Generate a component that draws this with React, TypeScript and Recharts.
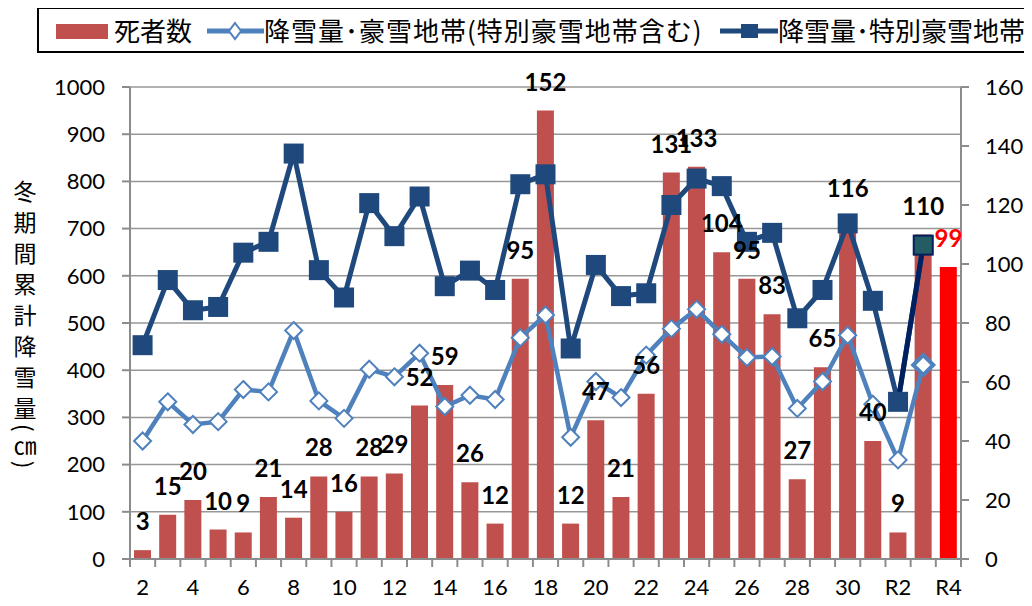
import React from 'react';
import { ComposedChart, Bar, Line, XAxis, YAxis, CartesianGrid, Cell, LabelList } from 'recharts';

// ---- data ----
const categories = [
  '2', '3', '4', '5', '6', '7', '8', '9', '10', '11', '12', '13', '14', '15', '16',
  '17', '18', '19', '20', '21', '22', '23', '24', '25', '26', '27', '28', '29', '30',
  'R1', 'R2', 'R3', 'R4',
];
const deaths = [
  3, 15, 20, 10, 9, 21, 14, 28, 16, 28, 29, 52, 59, 26, 12,
  95, 152, 12, 47, 21, 56, 131, 133, 104, 95, 83, 27, 65, 116,
  40, 9, 110, 99,
];
const snowAll: (number | null)[] = [
  250, 333, 285, 291, 359, 354, 484, 335, 298, 402, 386, 436, 323, 347, 338,
  469, 517, 258, 376, 342, 432, 488, 529, 476, 427, 429, 319, 376, 474,
  328, 210, 411, null,
];
const snowSpecial: (number | null)[] = [
  453, 591, 527, 534, 649, 672, 859, 612, 554, 754, 684, 768, 578, 611, 570,
  794, 815, 446, 623, 557, 563, 750, 806, 790, 672, 691, 510, 570, 711,
  547, 333, 665, null,
];
const xTickLabels = ['2', '4', '6', '8', '10', '12', '14', '16', '18', '20', '22', '24', '26', '28', '30', 'R2', 'R4'];
const leftTicks = [0, 100, 200, 300, 400, 500, 600, 700, 800, 900, 1000];
const rightTicks = [0, 20, 40, 60, 80, 100, 120, 140, 160];
const legendLabels = ['死者数', '降雪量･豪雪地帯(特別豪雪地帯含む)', '降雪量･特別豪雪地帯'];
const axisTitle = ['冬', '期', '間', '累', '計', '降', '雪', '量', '(', '㎝', ')'];

// latest-year highlight index
const lastSnowIdx = snowSpecial.reduce((acc: number, v, i) => (v != null ? i : acc), -1);

const data = categories.map((cat, i) => ({
  cat,
  deaths: deaths[i],
  snowAll: snowAll[i],
  snowSpecial: snowSpecial[i],
  specialLast: i >= lastSnowIdx - 1 && i <= lastSnowIdx ? snowSpecial[i] : null,
}));

// ---- style ----
const W = 1032;
const H = 606;
const PLOT_LEFT = 130;
const PLOT_RIGHT = 961;
const PLOT_TOP = 87;
const PLOT_BOTTOM = 559;
const BAND = (PLOT_RIGHT - PLOT_LEFT) / categories.length;
const AXIS = '#8c8c8c';
const BAR = '#C0504D';
const BAR_HI = '#FF0000';
const LIGHT = '#4F81BD';
const DARK = '#1F497D';
const NAVY = '#002060';
const NUM_FONT = 'Lato, "Open Sans", sans-serif';
const CJK_FONT = '"Noto Sans CJK JP", "Noto Sans", sans-serif';
// spacing after each stacked axis-title glyph
const TITLE_SPACING = [8, 8, 8, 8, 8, 8, 8, 4, 4, 2, 0];

const XTick = (props: any) => {
  const { x, payload, index } = props;
  const label = String(payload.value);
  const isLast = index === categories.length - 1;
  const y = PLOT_BOTTOM;
  return (
    <g>
      <line x1={x - BAND / 2} x2={x - BAND / 2} y1={y} y2={y + 8} stroke={AXIS} strokeWidth={2} />
      {isLast && <line x1={x + BAND / 2} x2={x + BAND / 2} y1={y} y2={y + 8} stroke={AXIS} strokeWidth={2} />}
      {xTickLabels.includes(label) && (
        <text x={x} y={y + 36} textAnchor="middle" fontSize={22} fill="#000" fontFamily={NUM_FONT}>
          {label}
        </text>
      )}
    </g>
  );
};

const DiamondDot = (props: any) => {
  const { cx, cy, index } = props;
  if (cx == null || cy == null) return <g key={`d${index}`} />;
  const big = index === lastSnowIdx;
  const r = big ? 10 : 8.5;
  return (
    <path
      key={`d${index}`}
      d={`M${cx},${cy - r} L${cx + r},${cy} L${cx},${cy + r} L${cx - r},${cy} Z`}
      fill="#fff"
      stroke={LIGHT}
      strokeWidth={big ? 4 : 2}
    />
  );
};

const SquareDot = (props: any) => {
  const { cx, cy, index } = props;
  if (cx == null || cy == null) return <g key={`s${index}`} />;
  return <rect key={`s${index}`} x={cx - 10} y={cy - 10} width={20} height={20} fill={DARK} />;
};

const LastSquareDot = (props: any) => {
  const { cx, cy, index } = props;
  if (cx == null || cy == null || index !== lastSnowIdx) return <g key={`l${index}`} />;
  return (
    <rect key={`l${index}`} x={cx - 9.5} y={cy - 9.5} width={19} height={19} fill="#245C63" stroke={NAVY} strokeWidth={2} />
  );
};

const renderDeathLabel = (props: any) => {
  const { x, y, value, index } = props;
  if (value == null || x == null || y == null) return null;
  const last = index === deaths.length - 1;
  return (
    <text
      x={x}
      y={y - 20}
      textAnchor="middle"
      fontSize={24}
      fontWeight={700}
      fill={last ? BAR_HI : '#000'}
      fontFamily={NUM_FONT}
    >
      {value}
    </text>
  );
};

const legendText: React.CSSProperties = {
  position: 'absolute',
  top: 17,
  fontSize: 26,
  lineHeight: '26px',
  fontFamily: CJK_FONT,
  color: '#000',
  whiteSpace: 'nowrap',
};

export default function App() {
  return (
    <div
      style={{
        position: 'relative',
        width: W,
        height: H,
        margin: -8,
        overflow: 'hidden',
        background: '#fff',
        fontFamily: NUM_FONT,
      }}
    >
      <ComposedChart
        width={W}
        height={H}
        data={data}
        margin={{ top: PLOT_TOP, right: 0, bottom: 0, left: 0 }}
      >
        <CartesianGrid yAxisId="left" vertical={false} stroke="#979797" strokeWidth={1.5} />
        <XAxis
          dataKey="cat"
          height={H - PLOT_BOTTOM}
          interval={0}
          tickSize={0}
          tickMargin={0}
          tickLine={false}
          axisLine={{ stroke: AXIS, strokeWidth: 2 }}
          tick={<XTick />}
        />
        <YAxis
          yAxisId="left"
          orientation="left"
          width={PLOT_LEFT}
          domain={[0, 1000]}
          ticks={leftTicks}
          interval={0}
          tickSize={8}
          tickMargin={17}
          axisLine={{ stroke: AXIS, strokeWidth: 2 }}
          tickLine={{ stroke: AXIS, strokeWidth: 2 }}
          tick={{ fontSize: 22, fill: '#000', fontFamily: NUM_FONT }}
        />
        <YAxis
          yAxisId="right"
          orientation="right"
          width={W - PLOT_RIGHT}
          domain={[0, 160]}
          ticks={rightTicks}
          interval={0}
          tickSize={8}
          tickMargin={16}
          axisLine={{ stroke: AXIS, strokeWidth: 2 }}
          tickLine={{ stroke: AXIS, strokeWidth: 2 }}
          tick={{ fontSize: 22, fill: '#000', fontFamily: NUM_FONT, textAnchor: 'start' }}
        />
        <Bar yAxisId="right" dataKey="deaths" barSize={17} fill={BAR} isAnimationActive={false}>
          {data.map((d, i) => (
            <Cell key={d.cat} fill={i === data.length - 1 ? BAR_HI : BAR} />
          ))}
        </Bar>
        <Line
          yAxisId="left"
          dataKey="snowAll"
          stroke={LIGHT}
          strokeWidth={4.5}
          dot={DiamondDot}
          activeDot={false}
          isAnimationActive={false}
        />
        <Line
          yAxisId="left"
          dataKey="snowSpecial"
          stroke={DARK}
          strokeWidth={5}
          dot={SquareDot}
          activeDot={false}
          isAnimationActive={false}
        />
        <Line
          yAxisId="left"
          dataKey="specialLast"
          stroke={NAVY}
          strokeWidth={5}
          dot={LastSquareDot}
          activeDot={false}
          isAnimationActive={false}
        />
        <Line
          yAxisId="right"
          dataKey="deaths"
          stroke="none"
          strokeWidth={0}
          dot={false}
          activeDot={false}
          isAnimationActive={false}
        >
          <LabelList dataKey="deaths" content={renderDeathLabel} />
        </Line>
      </ComposedChart>

      {/* y-axis title, vertical */}
      <div
        style={{
          position: 'absolute',
          left: 13,
          top: 180,
          writingMode: 'vertical-rl',
          textOrientation: 'mixed',
          fontSize: 23,
          lineHeight: 1,
          fontFamily: CJK_FONT,
          color: '#000',
          whiteSpace: 'nowrap',
        }}
      >
        {axisTitle.map((ch, i) => (
          <span key={i} style={{ letterSpacing: TITLE_SPACING[i] }}>
            {ch}
          </span>
        ))}
      </div>

      {/* legend */}
      <div
        style={{
          position: 'absolute',
          left: 37,
          top: 7,
          width: 1100,
          height: 46,
          boxSizing: 'border-box',
          border: '2px solid #000',
          background: '#fff',
        }}
      />
      <div style={{ position: 'absolute', left: 56, top: 24, width: 52, height: 15, background: BAR }} />
      <span style={{ ...legendText, left: 114 }}>{legendLabels[0]}</span>
      <svg style={{ position: 'absolute', left: 207, top: 21 }} width={57} height={20}>
        <line x1={0} x2={57} y1={10} y2={10} stroke={LIGHT} strokeWidth={5} />
        <path d="M28,2 L34,10 L28,18 L22,10 Z" fill="#fff" stroke={LIGHT} strokeWidth={2} />
      </svg>
      <span style={{ ...legendText, left: 264, letterSpacing: 1 }}>{legendLabels[1]}</span>
      <svg style={{ position: 'absolute', left: 720, top: 21 }} width={58} height={20}>
        <line x1={0} x2={58} y1={10} y2={10} stroke={DARK} strokeWidth={5} />
        <rect x={21} y={3} width={17} height={14} fill={DARK} />
      </svg>
      <span style={{ ...legendText, left: 778 }}>{legendLabels[2]}</span>
    </div>
  );
}
